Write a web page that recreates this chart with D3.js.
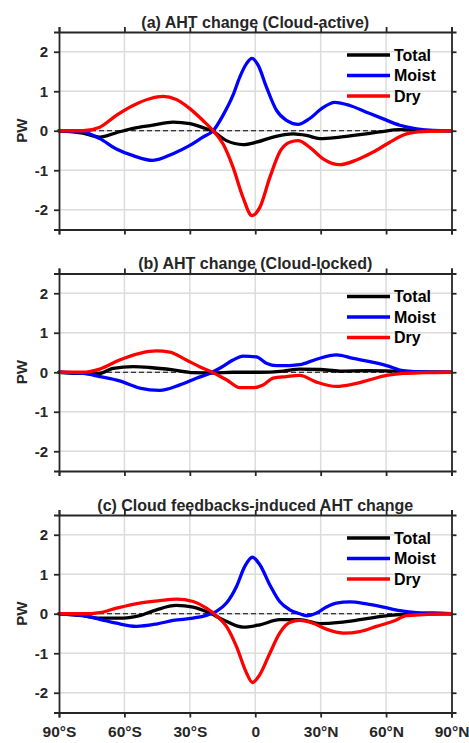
<!DOCTYPE html>
<html>
<head>
<meta charset="utf-8">
<script src="https://cdn.jsdelivr.net/npm/d3@7"></script>
<style>
  body { margin: 0; background: #fff; }
  svg { display: block; font-family: "Liberation Sans", Arial, sans-serif; font-weight: bold; }
</style>
</head>
<body>
<svg id="chart" width="469" height="743"></svg>
<script>
var latTicks = [-90, -60, -30, 0, 30, 60, 90];
var latLabels = ['90°S', '60°S', '30°S', '0', '30°N', '60°N', '90°N'];
var pwTicks = [-2, -1, 0, 1, 2];
var titles = ['(a) AHT change (Cloud-active)', '(b) AHT change (Cloud-locked)', '(c) Cloud feedbacks-induced AHT change'];
var seriesNames = ['Total', 'Moist', 'Dry'];

// [latitude, PW]
var totalA = [[-90,0],[-79,-0.06],[-71.3,-0.16],[-63.7,-0.05],[-56,0.06],[-46.9,0.14],[-37.7,0.22],[-30,0.18],[-24,0.08],[-19.3,-0.02],[-13.2,-0.25],[-5.6,-0.35],[0.5,-0.29],[8.2,-0.16],[17.4,-0.08],[23.5,-0.12],[29.6,-0.2],[38.8,-0.16],[48,-0.1],[57.1,-0.03],[66.3,0.03],[75.5,0.01],[90,0]];
var moistA = [[-90,0],[-79,-0.03],[-71.3,-0.2],[-63.7,-0.46],[-56,-0.63],[-46.9,-0.75],[-37.7,-0.58],[-30,-0.37],[-24,-0.16],[-19.3,0],[-14.8,0.39],[-10.2,0.9],[-7.1,1.36],[-4,1.7],[-1.5,1.83],[1.3,1.66],[5.1,1.11],[9.7,0.52],[14.3,0.26],[19.7,0.16],[25,0.31],[30.4,0.56],[36.5,0.72],[43.4,0.64],[51,0.47],[58.7,0.3],[66.3,0.14],[74,0.05],[81.6,0.01],[90,0]];
var dryA = [[-90,0],[-79,0],[-71.3,0.09],[-63.7,0.39],[-56,0.64],[-48.4,0.81],[-42.3,0.87],[-36.2,0.79],[-30,0.56],[-24,0.26],[-19.3,0],[-14.8,-0.33],[-10.2,-0.92],[-5.6,-1.69],[-1.5,-2.15],[2.1,-1.94],[6.7,-1.18],[11.2,-0.54],[15.8,-0.29],[19.7,-0.25],[25,-0.42],[31.1,-0.71],[38.8,-0.86],[46.4,-0.74],[54.1,-0.54],[61.7,-0.29],[69.4,-0.08],[77,-0.02],[90,0]];

var totalB = [[-90,0],[-79,-0.03],[-71.3,-0.03],[-65.2,0.1],[-56,0.14],[-48.4,0.12],[-37.7,0.06],[-28.5,-0.01],[-19.3,-0.02],[-10.2,0],[2.1,0],[12.8,0.03],[20.4,0.08],[29.6,0.07],[38.8,0.03],[51,0.04],[63.2,0.03],[75.5,0.01],[90,0]];
var moistB = [[-90,0],[-79,-0.03],[-71.3,-0.11],[-62.2,-0.22],[-53,-0.4],[-43.8,-0.46],[-34.6,-0.32],[-27,-0.15],[-20.9,-0.03],[-16.3,0.1],[-10.2,0.31],[-5.6,0.41],[0.5,0.39],[5.1,0.23],[9.7,0.17],[15.8,0.17],[20.4,0.19],[28.1,0.33],[37.2,0.44],[44.9,0.35],[52.5,0.27],[60.2,0.17],[67.8,0.04],[75.5,0.01],[90,0]];
var dryB = [[-90,0],[-79,0],[-71.3,0.08],[-62.2,0.31],[-53,0.48],[-45.3,0.54],[-39.2,0.51],[-31.6,0.31],[-25.5,0.14],[-19.3,-0.01],[-13.2,-0.19],[-7.1,-0.39],[-1,-0.39],[3.6,-0.32],[8.2,-0.15],[14.3,-0.11],[20.4,-0.08],[28.1,-0.25],[37.2,-0.36],[44.9,-0.3],[52.5,-0.19],[60.2,-0.08],[67.8,-0.03],[77,-0.01],[90,0]];

var totalC = [[-90,0],[-79,-0.05],[-71.3,-0.11],[-60.6,-0.11],[-53,-0.05],[-45.3,0.1],[-36.2,0.21],[-28.5,0.17],[-20.9,0.02],[-14.8,-0.15],[-5.6,-0.34],[2.1,-0.28],[11.2,-0.15],[20.4,-0.15],[29.6,-0.25],[38.8,-0.22],[48,-0.15],[57.1,-0.07],[66.3,-0.02],[75.5,0],[90,0]];
var moistC = [[-90,0],[-79,-0.05],[-71.3,-0.14],[-63.7,-0.24],[-54.5,-0.32],[-45.3,-0.26],[-37.7,-0.17],[-28.5,-0.11],[-22.4,-0.04],[-17.8,0.06],[-13.2,0.27],[-8.6,0.69],[-4.8,1.2],[-1.3,1.43],[2.1,1.24],[6.7,0.73],[11.2,0.31],[15.8,0.1],[20.4,0],[23.5,-0.05],[28.1,0.02],[32.6,0.17],[37.2,0.27],[43.4,0.3],[51,0.25],[58.7,0.17],[66.3,0.08],[74,0.03],[81.6,0.02],[90,0]];
var dryC = [[-90,0],[-79,0],[-71.3,0.03],[-63.7,0.14],[-53,0.27],[-43.8,0.33],[-36.2,0.37],[-28.5,0.31],[-22.4,0.14],[-17.8,-0.05],[-13.2,-0.32],[-8.6,-0.83],[-4,-1.5],[-1.3,-1.74],[2.1,-1.54],[6.7,-1.0],[11.2,-0.49],[15.8,-0.22],[20.4,-0.17],[26.5,-0.24],[32.6,-0.39],[40.3,-0.49],[48,-0.45],[55.6,-0.32],[63.2,-0.19],[69.4,-0.05],[77,-0.02],[90,0]];

var panels = [
  { title: titles[0], series: [totalA, moistA, dryA] },
  { title: titles[1], series: [totalB, moistB, dryB] },
  { title: titles[2], series: [totalC, moistC, dryC] }
];
var colors = ['#000000', '#0000ff', '#ff0000'];

var left = 59, right = 451.5, panelH = 197.5;
var tops = [32, 273.5, 515];
var axisColor = '#262626';

var svg = d3.select('#chart');

var x = d3.scaleLinear().domain([-90, 90]).range([left, right]);

panels.forEach(function (p, i) {
  var top = tops[i];
  var y = d3.scaleLinear().domain([-2.5, 2.5]).range([top + panelH, top]);
  var g = svg.append('g');

  // grid
  g.selectAll('.vgrid').data(latTicks.slice(1, -1)).enter().append('line')
    .attr('x1', function (d) { return x(d); }).attr('x2', function (d) { return x(d); })
    .attr('y1', top).attr('y2', top + panelH)
    .attr('stroke', '#dcdcdc').attr('stroke-width', 1.5);
  g.selectAll('.hgrid').data(pwTicks).enter().append('line')
    .attr('x1', left).attr('x2', right)
    .attr('y1', function (d) { return y(d); }).attr('y2', function (d) { return y(d); })
    .attr('stroke', '#dcdcdc').attr('stroke-width', 1.5);

  // zero line
  g.append('line')
    .attr('x1', left).attr('x2', right).attr('y1', y(0)).attr('y2', y(0))
    .attr('stroke', '#000').attr('stroke-width', 1).attr('stroke-dasharray', '5,3');

  var line = d3.line()
    .x(function (d) { return x(d[0]); })
    .y(function (d) { return y(d[1]); })
    .curve(d3.curveMonotoneX);

  p.series.forEach(function (s, k) {
    g.append('path').datum(s)
      .attr('d', line)
      .attr('fill', 'none')
      .attr('stroke', colors[k])
      .attr('stroke-width', 3.3)
      .attr('stroke-linejoin', 'round')
      .attr('stroke-linecap', 'round');
  });

  // axes, ticks out like matlab
  var axL = d3.axisLeft(y).tickValues(pwTicks).tickSize(5).tickPadding(6)
    .tickFormat(function (d) { return d < 0 ? '-' + Math.abs(d) : String(d); });
  var axR = d3.axisRight(y).tickValues(pwTicks).tickSize(5).tickFormat('');
  var axT = d3.axisTop(x).tickValues(latTicks).tickSize(5).tickFormat('');
  var axB = d3.axisBottom(x).tickValues(latTicks).tickSize(5).tickPadding(8)
    .tickFormat(function (d, j) { return i == 2 ? latLabels[j] : ''; });

  [
    g.append('g').attr('transform', 'translate(' + left + ',0)').call(axL),
    g.append('g').attr('transform', 'translate(' + right + ',0)').call(axR),
    g.append('g').attr('transform', 'translate(0,' + top + ')').call(axT),
    g.append('g').attr('transform', 'translate(0,' + (top + panelH) + ')').call(axB)
  ].forEach(function (a, n) {
    a.select('.domain').attr('stroke', axisColor).attr('stroke-width', 1.8);
    a.selectAll('.tick line').attr('stroke', axisColor).attr('stroke-width', 1.8);
    a.selectAll('text').attr('fill', axisColor).style('font-size', n == 3 ? '15.5px' : '15px').style('font-weight', 'bold')
      .style('font-family', '"Liberation Sans", Arial, sans-serif');
  });

  // y label
  g.append('text')
    .attr('transform', 'translate(27,' + y(0) + ') rotate(-90)')
    .attr('text-anchor', 'middle')
    .attr('fill', axisColor)
    .style('font-size', '15px')
    .text('PW');

  // title
  g.append('text')
    .attr('x', (left + right) / 2)
    .attr('y', top - 4.5)
    .attr('text-anchor', 'middle')
    .attr('fill', axisColor)
    .style('font-size', '16px')
    .text(p.title);

  // legend
  seriesNames.forEach(function (name, k) {
    var ly = top + 23 + k * 20.5;
    g.append('line')
      .attr('x1', 347).attr('x2', 390).attr('y1', ly).attr('y2', ly)
      .attr('stroke', colors[k]).attr('stroke-width', 3.3);
    g.append('text')
      .attr('x', 394).attr('y', ly).attr('dy', '0.36em')
      .attr('fill', '#000')
      .style('font-size', '16px')
      .text(name);
  });
});
</script>
</body>
</html>
